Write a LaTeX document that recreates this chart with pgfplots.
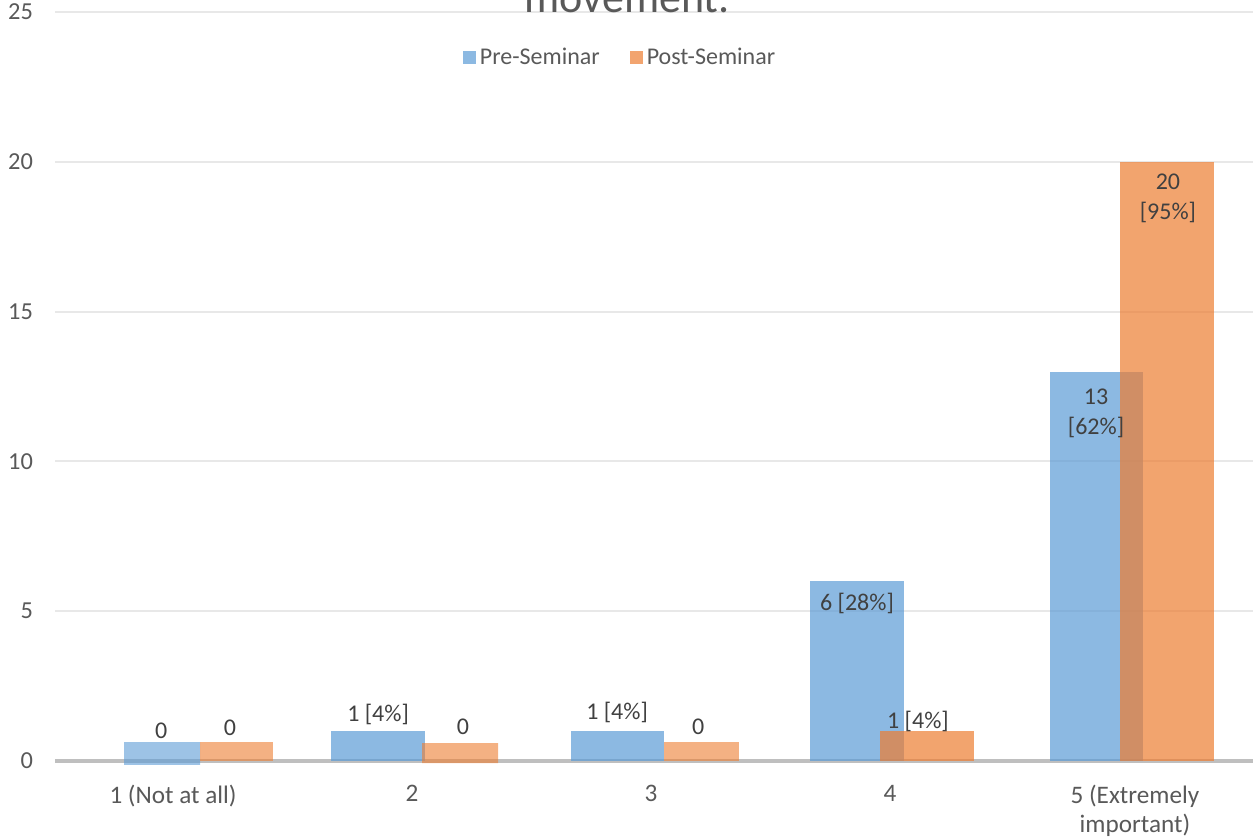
\documentclass[border=0pt]{standalone}
\usepackage{pgfplots}
\pgfplotsset{compat=1.18}
\usepackage{fontspec}
\setmainfont{Carlito}
\definecolor{preblue}{HTML}{5B9BD5}
\definecolor{postorange}{HTML}{ED7D31}
\definecolor{ticktext}{HTML}{595959}
\definecolor{labeltext}{HTML}{404040}
\begin{document}
\begin{tikzpicture}
\begin{axis}[
  scale only axis,
  width=599pt, height=374.5pt,
  xmin=-0.494, xmax=4.519,
  ymin=0, ymax=25,
  clip=false,
  axis line style={draw=none},
  tick style={draw=none},
  ytick={0,5,10,15,20,25},
  ymajorgrids,
  major grid style={draw=black!9, line width=1pt},
  extra y ticks={0}, extra y tick labels={},
  extra y tick style={major grid style={draw=black!25, line width=1.6pt}},
  xtick={0,1,2,3,4.025},
  xticklabels={1 (Not at all),2,3,4,{5 (Extremely\\important)}},
  xticklabel style={align=center, font=\fontsize{12.6}{14.6}\selectfont, text=ticktext, yshift=-8.5pt},
  yticklabel style={font=\fontsize{12.2}{14}\selectfont, text=ticktext, xshift=-7.5pt},
  /pgf/number format/assume math mode=true,
  legend style={at={(0.4725,0.9386)}, anchor=center, draw=none, fill=none,
    font=\fontsize{12}{14}\selectfont, text=ticktext, legend columns=2,
    /tikz/every even column/.append style={column sep=13pt}},
  legend image code/.code={\fill[#1,draw=none] (0pt,-3.25pt) rectangle (6.5pt,3.25pt);},
]
\addlegendimage{fill=preblue!70!white,draw=none}
\addlegendentry{Pre-Seminar}
\addlegendimage{fill=postorange!70!white,draw=none}
\addlegendentry{Post-Seminar}

% Pre-Seminar bars
\addplot[ybar, bar width=0.318, bar shift=0pt, draw=none, fill=preblue, fill opacity=0.6, forget plot]
  coordinates {(-0.046,0.63) (-0.046,-0.13)};
\addplot[ybar, bar width=0.393, bar shift=0pt, draw=none, fill=preblue, fill opacity=0.7, forget plot]
  coordinates {(0.858,1)};
\addplot[ybar, bar width=0.389, bar shift=0pt, draw=none, fill=preblue, fill opacity=0.7, forget plot]
  coordinates {(1.860,1)};
\addplot[ybar, bar width=0.393, bar shift=0pt, draw=none, fill=preblue, fill opacity=0.7, forget plot]
  coordinates {(2.862,6)};
\addplot[ybar, bar width=0.390, bar shift=0pt, draw=none, fill=preblue, fill opacity=0.7, forget plot]
  coordinates {(3.864,13)};

% Post-Seminar bars
\addplot[ybar, bar width=0.305, bar shift=0pt, draw=none, fill=postorange, fill opacity=0.6, forget plot]
  coordinates {(0.266,0.63)};
\addplot[ybar, bar width=0.318, bar shift=0pt, draw=none, fill=postorange, fill opacity=0.6, forget plot]
  coordinates {(1.201,0.6) (1.201,-0.07)};
\addplot[ybar, bar width=0.314, bar shift=0pt, draw=none, fill=postorange, fill opacity=0.6, forget plot]
  coordinates {(2.211,0.63)};
\addplot[ybar, bar width=0.393, bar shift=0pt, draw=none, fill=postorange, fill opacity=0.7, forget plot]
  coordinates {(3.155,1)};
\addplot[ybar, bar width=0.393, bar shift=0pt, draw=none, fill=postorange, fill opacity=0.7, forget plot]
  coordinates {(4.159,20)};

% data labels
\begin{scope}[every node/.style={font=\fontsize{12}{15}\selectfont, text=labeltext, align=center}]
\node at (axis cs:-0.05,1.0) {0};
\node at (axis cs:0.238,1.1) {0};
\node at (axis cs:0.858,1.57) {1 [4\%]};
\node at (axis cs:1.213,1.13) {0};
\node at (axis cs:1.858,1.63) {1 [4\%]};
\node at (axis cs:2.197,1.13) {0};
\node at (axis cs:2.862,5.27) {6 [28\%]};
\node at (axis cs:3.117,1.33) {1 [4\%]};
\node at (axis cs:3.862,11.6) {13\\{[}62\%{]}};
\node at (axis cs:4.163,18.77) {20\\{[}95\%{]}};
\end{scope}

\node[anchor=base, font=\fontsize{22}{26}\selectfont, text=ticktext, yshift=-0.5pt] at (rel axis cs:0.4775,1) {movement.};

\coordinate (bl) at (rel axis cs:0,0);
\coordinate (tr) at (rel axis cs:1,1);
\end{axis}
\pgfresetboundingbox
\path ([shift={(-27.5pt,-39.5pt)}]bl) rectangle ([shift={(0pt,6pt)}]tr);
\end{tikzpicture}
\end{document}
